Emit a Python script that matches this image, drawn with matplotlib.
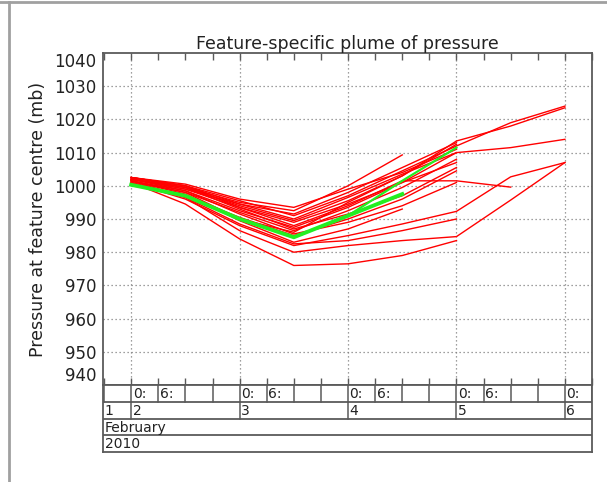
import numpy as np
import matplotlib
matplotlib.use("Agg")
import matplotlib.pyplot as plt
from matplotlib.lines import Line2D
import matplotlib.transforms as mtransforms

# ---- data (time in days of February 2010, pressure in mb) ----
times = [2.0, 2.5, 3.0, 3.5, 4.0, 4.5, 5.0, 5.5, 6.0]
nan = np.nan
red_members = [
    [1002.5, 1000.0, 995.5, 991.0, 997.0, 1004.5, 1012.0, 1019.0, 1024.0],
    [1002.0, 999.5, 994.0, 989.5, 995.5, 1003.0, 1013.5, 1018.0, 1023.5],
    [1001.5, 998.5, 992.5, 987.5, 993.5, 1001.0, 1010.0, 1011.5, 1014.0],
    [1001.0, 996.0, 988.0, 982.0, 985.0, 988.5, 992.3, 1002.7, 1007.0],
    [1001.5, 996.5, 986.5, 980.0, 982.0, 983.5, 984.7, 995.7, 1007.0],
    [1001.0, 994.5, 984.0, 976.0, 976.5, 979.0, 983.5, nan, nan],
    [1002.0, 999.0, 993.5, 988.0, 994.0, 1001.5, 1001.5, 999.6, nan],
    [1002.5, 1000.5, 996.0, 993.5, 999.0, 1004.0, 1011.0, nan, nan],
    [1002.0, 999.0, 994.5, 991.5, 998.0, 1005.5, 1013.0, nan, nan],
    [1001.5, 998.0, 992.0, 986.5, 992.5, 999.5, 1008.0, nan, nan],
    [1002.0, 999.5, 995.0, 992.5, 1000.0, 1009.3, nan, nan, nan],
    [1001.0, 997.0, 990.5, 985.0, 990.0, 996.0, 1004.5, nan, nan],
    [1002.5, 999.5, 993.0, 987.0, 991.5, 997.0, 1005.5, nan, nan],
    [1001.5, 997.5, 989.5, 983.0, 987.0, 993.0, nan, nan, nan],
    [1002.0, 998.5, 991.5, 985.5, 989.0, 994.0, 1001.0, nan, nan],
    [1002.5, 1000.0, 994.5, 990.0, 996.5, 1003.5, 1010.0, nan, nan],
    [1001.0, 996.5, 988.5, 982.5, 983.5, 986.5, 990.0, nan, nan],
    [1001.5, 998.0, 990.0, 986.0, 995.0, 1003.0, 1012.5, nan, nan],
    [1002.5, 1000.0, 993.5, 989.0, 994.5, 1001.0, 1007.0, nan, nan],
]
green_main = [1000.3, 997.0, 990.0, 984.5, 991.0, 997.5, nan, nan, nan]
green_alt = [1000.3, 997.0, 990.0, 984.5, 991.0, 1001.5, 1011.5, nan, nan]

yticks = [940, 950, 960, 970, 980, 990, 1000, 1010, 1020, 1030, 1040]
day_labels = ["1", "2", "3", "4", "5", "6"]
hour_labels = ["0:", "6:"]
month_label = "February"
year_label = "2010"
title = "Feature-specific plume of pressure"
ylabel = "Pressure at feature centre (mb)"

W, H = 607, 482
fig = plt.figure(figsize=(W / 100, H / 100), dpi=100)
fig.patch.set_facecolor("white")

x0, x1 = 1.74, 6.25
L, R, T, B = 103, 592, 53, 385
ax = fig.add_axes([L / W, 1 - B / H, (R - L) / W, (B - T) / H])
ax.set_xlim(x0, x1)
ax.set_ylim(940, 1040)

frame_col = "#5a5a5a"
for s in ax.spines.values():
    s.set_color(frame_col)
    s.set_linewidth(1.3)

# grid
gstyle = dict(color="#808080", lw=0.9, linestyle=(0, (1, 2.2)))
for y in yticks[1:-1]:
    ax.axhline(y, **gstyle, zorder=1)
for d in [2, 3, 4, 5, 6]:
    ax.axvline(d, **gstyle, zorder=1)

t = np.array(times)
for m in red_members:
    ax.plot(t, m, color="#ff0000", lw=1.0, zorder=3)
ax.plot(t, green_alt, color="#22ee22", lw=1.6, zorder=4)
ax.plot(t, green_main, color="#22ee22", lw=2.8, zorder=5)

ax.set_yticks(yticks)
ax.set_yticklabels([str(v) for v in yticks], fontsize=12, color="#222222")
labs = ax.get_yticklabels()
labs[0].set_va("bottom")
labs[-1].set_va("top")
ax.tick_params(axis="y", length=0, pad=5)

sixh = np.arange(1.75, 6.26, 0.25)
ax.set_xticks(sixh)
ax.set_xticklabels([])
ax.tick_params(axis="x", direction="in", length=5, width=1.0, color=frame_col,
               top=True, bottom=True)

ax.set_title(title, fontsize=12.5, color="#222222", pad=3)
ax.set_ylabel(ylabel, fontsize=12.5, color="#222222")
ax.yaxis.set_label_coords((47 - L) / (R - L), 0.5)

# bottom date rows
B2 = 452
ax2 = fig.add_axes([L / W, 1 - B2 / H, (R - L) / W, (B2 - B) / H])
ax2.set_xlim(x0, x1)
ax2.set_ylim(0, 4)
ax2.set_xticks([])
ax2.set_yticks([])
for s in ax2.spines.values():
    s.set_color(frame_col)
    s.set_linewidth(1.3)
for yy in [1, 2, 3]:
    ax2.axhline(yy, color=frame_col, lw=1.3)
for h in sixh:
    ax2.plot([h, h], [3, 4], color=frame_col, lw=1.1)
for d in [2, 3, 4, 5, 6]:
    ax2.plot([d, d], [2, 3], color=frame_col, lw=1.1)

off = mtransforms.offset_copy(ax2.transData, fig=fig, x=1.5, y=0, units="dots")
fs = 10
for d in [2, 3, 4, 5, 6]:
    ax2.text(d, 3.45, hour_labels[0], transform=off, fontsize=fs, va="center", ha="left", color="#222222")
for d in [2, 3, 4, 5]:
    ax2.text(d + 0.25, 3.45, hour_labels[1], transform=off, fontsize=fs, va="center", ha="left", color="#222222")
ax2.text(x0, 2.45, day_labels[0], transform=off, fontsize=fs, va="center", ha="left", color="#222222")
for d, lab in zip([2, 3, 4, 5, 6], day_labels[1:]):
    ax2.text(d, 2.45, lab, transform=off, fontsize=fs, va="center", ha="left", color="#222222")
ax2.text(x0, 1.45, month_label, transform=off, fontsize=fs, va="center", ha="left", color="#222222")
ax2.text(x0, 0.45, year_label, transform=off, fontsize=fs, va="center", ha="left", color="#222222")

# outer page frame lines
fig.add_artist(Line2D([0, 1], [1 - 1.5 / H, 1 - 1.5 / H], transform=fig.transFigure, color="#a0a0a0", lw=2))
fig.add_artist(Line2D([8.5 / W, 8.5 / W], [0, 1 - 1.5 / H], transform=fig.transFigure, color="#a0a0a0", lw=2))

fig.savefig("out.png", dpi=100, facecolor="white")
